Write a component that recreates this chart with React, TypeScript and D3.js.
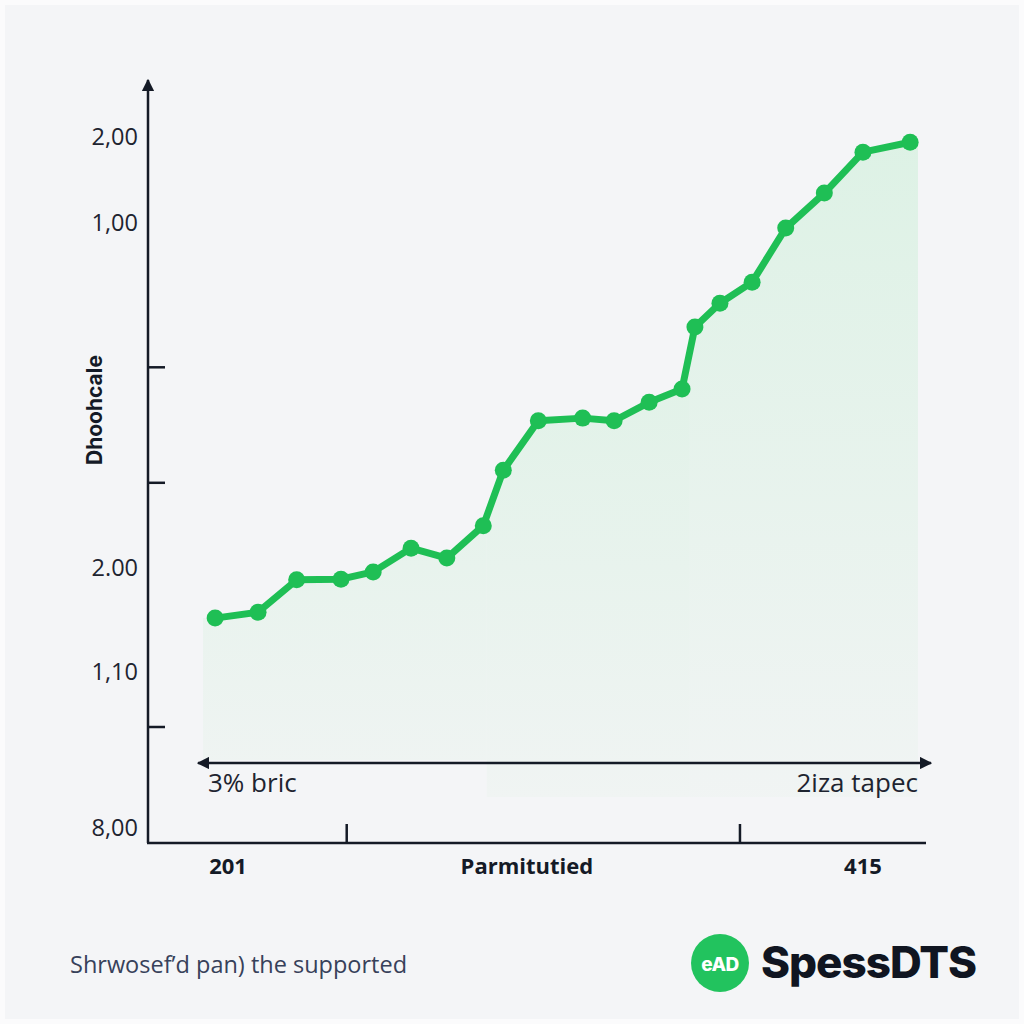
import * as d3 from 'd3';
import { useEffect, useRef } from 'react';

// point positions along the horizontal axis (0..100 units)
const xValues = [1.7, 7.7, 13.1, 19.3, 23.8, 29.1, 34.1, 39.2, 42.0, 46.9, 53.1, 57.5, 62.4, 67.0, 68.8, 72.3, 76.8, 81.5, 86.9, 92.3, 98.9];
// series values (0..100 units)
const yValues = [21.5, 22.4, 27.3, 27.4, 28.5, 32.1, 30.6, 35.5, 43.9, 51.4, 51.8, 51.4, 54.2, 56.2, 65.6, 69.2, 72.4, 80.6, 85.9, 92.1, 93.6];

const yTickLabels = ['2,00', '1,00', '2.00', '1,10', '8,00'];
const yTickLabelValues = [94.4, 81.4, 29.1, 13.3, -10.3];
const yTickMarks = [59.5, 42.0, 5.0];

const xTickMarks = [20.1, 75.1];
const xTickLabels = ['201', 'Parmitutied', '415'];
const xTickLabelValues = [3.5, 45.3, 92.3];

// shaded bands under the line (x from / to, bottom value)
const bandStarts = [0, 39.7, 68.1];
const bandEnds = [39.7, 68.1, 100];
const bandBottoms = [0, -5.6, -5.6];

const yTitle = 'Dhoohcale';
const rangeLeft = '3% bric';
const rangeRight = '2iza tapec';
const footer = 'Shrwosef\u2019d pan) the supported';
const brand = 'SpessDTS';

const App = () => {
    const ref = useRef<SVGSVGElement | null>(null);

    useEffect(() => {
        const width = 1024;
        const height = 1024;
        const svg = d3.select(ref.current);
        svg.selectAll('*').remove();

        const ink = '#141a26';
        const green = '#1fbf55';
        const font = '"Open Sans", "Noto Sans", sans-serif';

        const x = d3.scaleLinear().domain([0, 100]).range([203, 918]);
        const y = d3.scaleLinear().domain([0, 100]).range([760, 100]);

        const defs = svg.append('defs');
        defs.append('marker')
            .attr('id', 'arrow')
            .attr('viewBox', '0 0 10 10')
            .attr('refX', 9).attr('refY', 5)
            .attr('markerWidth', 5).attr('markerHeight', 5)
            .attr('orient', 'auto-start-reverse')
            .append('path')
            .attr('d', 'M0,0 L10,5 L0,10 z')
            .attr('fill', ink);

        const grad = defs.append('linearGradient')
            .attr('id', 'fill')
            .attr('x1', 0).attr('x2', 0)
            .attr('gradientUnits', 'userSpaceOnUse')
            .attr('y1', y(95)).attr('y2', y(-6));
        grad.append('stop').attr('offset', '0%').attr('stop-color', '#d9f1e2');
        grad.append('stop').attr('offset', '100%').attr('stop-color', '#f0f4f3');

        svg.append('rect').attr('width', width).attr('height', height).attr('fill', '#fbfbfc');
        svg.append('rect')
            .attr('x', 5).attr('y', 5).attr('width', width - 10).attr('height', height - 10)
            .attr('fill', '#f4f5f7');

        const data = xValues.map((v, i) => ({ x: v, y: yValues[i] }));

        // area bands
        bandStarts.forEach((s, i) => {
            const id = `band${i}`;
            defs.append('clipPath').attr('id', id)
                .append('rect')
                .attr('x', x(s)).attr('y', 0)
                .attr('width', x(bandEnds[i]) - x(s))
                .attr('height', height);
            const area = d3.area<{ x: number; y: number }>()
                .x(d => x(d.x))
                .y0(y(bandBottoms[i]))
                .y1(d => y(d.y));
            const areaData = [{ x: 0, y: yValues[0] }, ...data, { x: 100, y: yValues[yValues.length - 1] }];
            svg.append('path')
                .datum(areaData)
                .attr('clip-path', `url(#${id})`)
                .attr('d', area)
                .attr('fill', 'url(#fill)')
                .attr('opacity', i === 2 ? 0.85 : 1);
        });

        // y axis
        svg.append('line')
            .attr('x1', 148).attr('x2', 148)
            .attr('y1', 843).attr('y2', 80)
            .attr('stroke', ink).attr('stroke-width', 2.5)
            .attr('marker-end', 'url(#arrow)');

        svg.append('g')
            .selectAll('line')
            .data(yTickMarks)
            .join('line')
            .attr('x1', 148).attr('x2', 165)
            .attr('y1', d => y(d)).attr('y2', d => y(d))
            .attr('stroke', ink).attr('stroke-width', 2.5);

        svg.append('g')
            .selectAll('text')
            .data(yTickLabels)
            .join('text')
            .attr('x', 138)
            .attr('y', (d, i) => y(yTickLabelValues[i]))
            .attr('dy', '0.35em')
            .attr('text-anchor', 'end')
            .attr('font-family', font)
            .attr('font-size', 23.5)
            .attr('fill', '#1e2430')
            .text(d => d);

        svg.append('text')
            .attr('transform', 'translate(95,410) rotate(-90)')
            .attr('text-anchor', 'middle')
            .attr('dy', '0.35em')
            .attr('font-family', 'Inter, "Noto Sans", sans-serif')
            .attr('font-weight', 700)
            .attr('font-size', 21)
            .attr('fill', ink)
            .text(yTitle);

        // double-headed range arrow
        svg.append('line')
            .attr('x1', 198).attr('x2', 931)
            .attr('y1', 763).attr('y2', 763)
            .attr('stroke', ink).attr('stroke-width', 2.5)
            .attr('marker-start', 'url(#arrow)')
            .attr('marker-end', 'url(#arrow)');

        svg.append('text')
            .attr('x', 208).attr('y', 783).attr('dy', '0.35em')
            .attr('font-family', font).attr('font-size', 26).attr('fill', '#1e2430')
            .text(rangeLeft);
        svg.append('text')
            .attr('x', 918).attr('y', 783).attr('dy', '0.35em')
            .attr('text-anchor', 'end')
            .attr('font-family', font).attr('font-size', 26).attr('fill', '#1e2430')
            .text(rangeRight);

        // x axis
        svg.append('line')
            .attr('x1', 147).attr('x2', 926)
            .attr('y1', 843).attr('y2', 843)
            .attr('stroke', ink).attr('stroke-width', 2.5);

        svg.append('g')
            .selectAll('line')
            .data(xTickMarks)
            .join('line')
            .attr('x1', d => x(d)).attr('x2', d => x(d))
            .attr('y1', 824).attr('y2', 843)
            .attr('stroke', ink).attr('stroke-width', 2.5);

        svg.append('g')
            .selectAll('text')
            .data(xTickLabels)
            .join('text')
            .attr('x', (d, i) => x(xTickLabelValues[i]))
            .attr('y', 866)
            .attr('dy', '0.35em')
            .attr('text-anchor', 'middle')
            .attr('font-family', font)
            .attr('font-weight', 700)
            .attr('font-size', 22)
            .attr('fill', ink)
            .text(d => d);

        // series line
        const line = d3.line<{ x: number; y: number }>()
            .x(d => x(d.x))
            .y(d => y(d.y));

        svg.append('path')
            .datum(data)
            .attr('d', line)
            .attr('fill', 'none')
            .attr('stroke', green)
            .attr('stroke-width', 7)
            .attr('stroke-linejoin', 'round')
            .attr('stroke-linecap', 'round');

        svg.append('g')
            .selectAll('circle')
            .data(data)
            .join('circle')
            .attr('cx', d => x(d.x))
            .attr('cy', d => y(d.y))
            .attr('r', 8.5)
            .attr('fill', green);

        // footer
        svg.append('text')
            .attr('x', 70).attr('y', 965).attr('dy', '0.35em')
            .attr('font-family', font).attr('font-size', 23.5).attr('fill', '#37415a')
            .text(footer);

        svg.append('circle')
            .attr('cx', 720).attr('cy', 963).attr('r', 29)
            .attr('fill', '#22c35e');
        svg.append('text')
            .attr('x', 720).attr('y', 964).attr('dy', '0.35em')
            .attr('text-anchor', 'middle')
            .attr('font-family', 'Inter, sans-serif')
            .attr('font-weight', 800)
            .attr('font-size', 19)
            .attr('letter-spacing', -0.5)
            .attr('fill', '#ffffff')
            .text('eAD');
        svg.append('text')
            .attr('x', 761).attr('y', 963).attr('dy', '0.35em')
            .attr('font-family', 'Inter, sans-serif')
            .attr('font-weight', 800)
            .attr('font-size', 44)
            .attr('letter-spacing', -1)
            .attr('fill', '#101521')
            .text(brand);
    }, []);

    return (
        <svg
            ref={ref}
            width={1024}
            height={1024}
            style={{ position: 'absolute', left: 0, top: 0, display: 'block' }}
        />
    );
};

export default App;
